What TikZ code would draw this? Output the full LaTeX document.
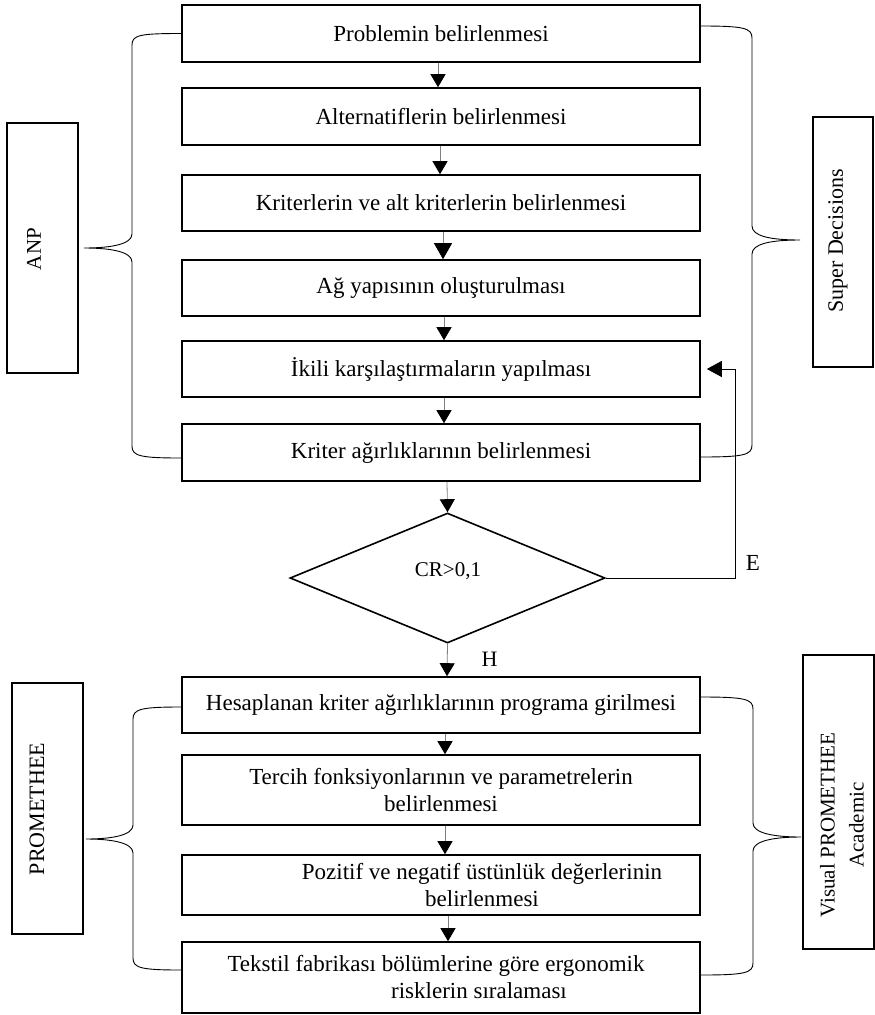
\documentclass[tikz,border=0pt]{standalone}
\usepackage{fontspec}
\setmainfont{Liberation Serif}
\usetikzlibrary{arrows.meta,shapes.geometric}
\begin{document}
\begin{tikzpicture}[x=1pt,y=-1pt,
  box/.style={draw, line width=1.6pt, minimum width=518pt, inner sep=0pt, align=center, font=\fontsize{23}{27}\selectfont},
  side/.style={draw, line width=1.8pt, inner sep=0pt},
  sidetext/.style={rotate=90, inner sep=0pt, align=center, font=\fontsize{21}{29}\selectfont},
  lbl/.style={inner sep=0pt, font=\fontsize{20}{24}\selectfont},
  dia/.style={draw, diamond, line width=1.6pt, minimum width=315pt, minimum height=130pt, inner sep=0pt},
  flow/.style={draw=gray, line width=0.8pt, -{Triangle[width=15pt,length=13pt,color=black]}},
  bigflow/.style={draw=gray, line width=0.8pt, -{Triangle[width=18pt,length=16pt,color=black]}},
  fb/.style={draw=black, line width=0.9pt, -{Triangle[width=16pt,length=15pt,color=black]}},
  brace/.style={draw=black, line width=0.9pt}
]
\useasboundingbox (0,0) rectangle (875,1015);
\fill[white] (0,0) rectangle (875,1015);

% main flow boxes
\node[box, minimum height=57pt] (b1) at (441,33.5) {Problemin belirlenmesi};
\node[box, minimum height=57pt] (b2) at (441,116.5) {Alternatiflerin belirlenmesi};
\node[box, minimum height=56pt] (b3) at (441,203) {Kriterlerin ve alt kriterlerin belirlenmesi};
\node[box, minimum height=56pt] (b4) at (441,288) {Ağ yapısının oluşturulması};
\node[box, minimum height=56pt] (b5) at (441,369) {İkili karşılaştırmaların yapılması};
\node[box, minimum height=57pt] (b6) at (441,452.5) {Kriter ağırlıklarının belirlenmesi};
\node[dia] (d) at (447.5,578) {};
\node[lbl, font=\fontsize{21}{24}\selectfont] (crT) at (448,571) {CR>0,1};
\node[box, minimum height=56pt] (b7) at (441,705) {Hesaplanan kriter ağırlıklarının programa girilmesi};
\node[box, minimum height=70pt] (b8) at (441,790) {Tercih fonksiyonlarının ve parametrelerin\\belirlenmesi};
\node[box, minimum height=60pt] (b9) at (441,885) {\hspace*{82pt}Pozitif ve negatif üstünlük değerlerinin\\\hspace*{82pt}belirlenmesi};
\node[box, minimum height=71pt] (b10) at (441,977.5) {Tekstil fabrikası bölümlerine göre ergonomik\hspace*{10pt}\\\hspace*{76pt}risklerin sıralaması};

% side boxes
\node[side, minimum width=71pt, minimum height=250pt] (anp) at (42.5,248) {};
\node[sidetext] (anpT) at (34,249) {ANP};
\node[side, minimum width=60pt, minimum height=250pt] (sd) at (843,242) {};
\node[sidetext, font=\fontsize{22}{29}\selectfont] (sdT) at (838,241) {Super Decisions};
\node[side, minimum width=71pt, minimum height=251pt] (pr) at (47.5,808.5) {};
\node[sidetext, font=\fontsize{22}{29}\selectfont] (prT) at (37,809) {PROMETHEE};
\node[side, minimum width=71pt, minimum height=294pt] (vp) at (838.5,802) {};
\node[sidetext] (vpT) at (842,825) {Visual PROMETHEE\\Academic};

% flow arrows
\draw[flow] ([xshift=-3pt]b1.south) -- ([xshift=-3pt]b2.north);
\draw[flow] ([xshift=-1pt]b2.south) -- ([xshift=-1pt]b3.north);
\draw[bigflow] ([xshift=2pt]b3.south) -- ([xshift=2pt]b4.north);
\draw[flow] ([xshift=3pt]b4.south) -- ([xshift=3pt]b5.north);
\draw[flow] ([xshift=3pt]b5.south) -- ([xshift=3pt]b6.north);
\draw[flow] ([xshift=6pt]b6.south) -- (d.north);
\draw[flow] (d.south) -- ([xshift=6pt]b7.north);
\draw[flow] ([xshift=4pt]b7.south) -- ([xshift=4pt]b8.north);
\draw[flow] ([xshift=4pt]b8.south) -- ([xshift=4pt]b9.north);
\draw[flow] ([xshift=7pt]b9.south) -- ([xshift=7pt]b10.north);

% feedback loop
\draw[fb] (d.east) -| ([xshift=35pt]b5.east) -- ([xshift=6pt]b5.east);
\node[lbl, font=\fontsize{23}{26}\selectfont] (E) at (753,563) {E};
\node[lbl, font=\fontsize{22}{26}\selectfont] (H) at (489.5,659) {H};

% braces
\draw[brace] (b1.west) .. controls (140,33.5) and (132,35) .. (132,45) -- (132,234)
  .. controls (132,244) and (112,248) .. (84,248)
  .. controls (112,248) and (132,252) .. (132,262) -- (132,446)
  .. controls (132,456) and (140,458) .. ([yshift=-5.5pt]b6.west);
\draw[brace] ([yshift=7.5pt]b1.east) .. controls (744,26) and (752,28) .. (752,38) -- (752,226)
  .. controls (752,236) and (770,240) .. (800,240)
  .. controls (770,240) and (752,244) .. (752,254) -- (752,445)
  .. controls (752,455) and (744,457) .. ([yshift=-4.5pt]b6.east);
\draw[brace] ([yshift=-2pt]b7.west) .. controls (141,707) and (133,709) .. (133,719) -- (133,825)
  .. controls (133,835) and (113,839) .. (86,839)
  .. controls (113,839) and (133,843) .. (133,853) -- (133,958)
  .. controls (133,968) and (141,970) .. ([yshift=7.5pt]b10.west);
\draw[brace] ([yshift=8pt]b7.east) .. controls (745,697) and (753,699) .. (753,709) -- (753,823)
  .. controls (753,833) and (773,837) .. (801,837)
  .. controls (773,837) and (753,841) .. (753,851) -- (753,963)
  .. controls (753,973) and (745,975) .. ([yshift=2.5pt]b10.east);
\end{tikzpicture}
\end{document}
